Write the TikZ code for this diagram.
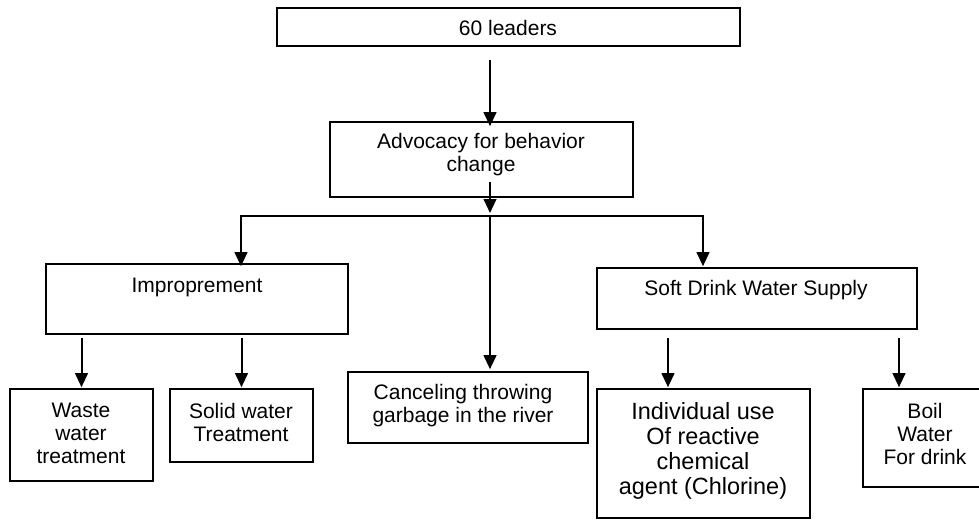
\documentclass[tikz,border=0pt]{standalone}
\usepackage{fontspec}
\setmainfont{Liberation Sans}
\usetikzlibrary{arrows.meta,calc}
\begin{document}
\begin{tikzpicture}[x=0.75pt,y=-0.75pt,
  box/.style={draw=black,line width=1.2pt,inner sep=0pt},
  txt/.style={align=center,font=\fontsize{15.75}{17.25}\selectfont,inner sep=0pt},
  bigtxt/.style={align=center,font=\fontsize{17.6}{18.75}\selectfont,inner sep=0pt},
  arr/.style={line width=1.5pt,-{Triangle[length=10.5pt,width=9.5pt]}}]
\path[use as bounding box] (0,0) rectangle (979,519);
\clip (0,0) rectangle (979,519);
% boxes
\node[box,minimum width=347.25pt,minimum height=28.5pt]  (top)    at (508.5,27)   {};
\node[box,minimum width=227.25pt,minimum height=56.25pt] (adv)    at (481.5,159.5) {};
\node[box,minimum width=226.5pt,minimum height=52.5pt]   (imp)    at (197,299)    {};
\node[box,minimum width=240pt,minimum height=45.75pt]    (soft)   at (757,298.5)  {};
\node[box,minimum width=107.25pt,minimum height=69pt]    (waste)  at (81.5,435)   {};
\node[box,minimum width=107.25pt,minimum height=54.75pt] (solid)  at (241.5,425.5) {};
\node[box,minimum width=180pt,minimum height=53.25pt]    (cancel) at (468,407.5)  {};
\node[box,minimum width=159.75pt,minimum height=96.75pt] (indiv)  at (703.5,453.5) {};
\node[box,minimum width=93pt,minimum height=73.5pt]      (boil)   at (925,438)    {};
% texts
\node[txt] (ttop)    at (508,28)  {60 leaders};
\node[txt] (tadv)    at (481,155) {Advocacy for behavior\\change};
\node[txt] (timp)    at (197,287) {Improprement};
\node[txt] (tsoft)   at (756,290) {Soft Drink Water Supply};
\node[txt] (twaste)  at (81,433)  {Waste\\water\\treatment};
\node[txt] (tsolid)  at (241,422) {Solid water\\Treatment};
\node[txt] (tcancel) at (463,406) {Canceling throwing\\garbage in the river};
\node[bigtxt] (tindiv) at (703,451) {Individual use\\Of reactive\\chemical\\agent (Chlorine)};
\node[txt] (tboil)   at (925,434) {Boil\\Water\\For drink};
% columns and junctions
\coordinate (cT) at (490,0);
\coordinate (jM) at (490,216);
\coordinate (jL) at (241,216);
\coordinate (jR) at (703,216);
\coordinate (cI) at (668,0);
\coordinate (cB) at (899,0);
% connectors
\draw[arr] ($(top.south -| cT)+(0,13)$) -- ($(adv.north -| cT)+(0,5)$);
\draw[arr] ($(adv.south -| cT)+(0,-16)$) -- ($(jM)+(0,-3)$);
\draw[arr] (jM) -- ($(cancel.north -| jM)+(0,-2)$);
\draw[arr] (jM) -| ($(imp.north -| jL)+(0,3)$);
\draw[arr] (jM) -| ($(soft.north -| jR)+(0,-1)$);
\draw[arr] ($(imp.south -| waste.north)+(0,3)$) -- ($(waste.north)+(0,-1)$);
\draw[arr] ($(imp.south -| solid.north)+(0,3)$) -- ($(solid.north)+(0,-1)$);
\draw[arr] ($(soft.south -| cI)+(0,8)$) -- ($(indiv.north -| cI)+(0,-1)$);
\draw[arr] ($(soft.south -| cB)+(0,8)$) -- ($(boil.north -| cB)+(0,-1)$);
\end{tikzpicture}
\end{document}
